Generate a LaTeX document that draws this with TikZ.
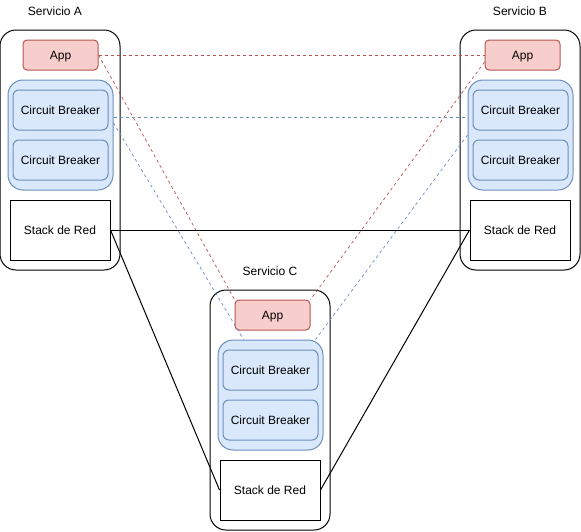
\documentclass[tikz,border=0pt]{standalone}
\usepackage{fontspec}
\setmainfont{Liberation Sans}
\begin{document}
\definecolor{redfill}{HTML}{F8CECC}
\definecolor{redline}{HTML}{B85450}
\definecolor{bluefill}{HTML}{DAE8FC}
\definecolor{blueline}{HTML}{6C8EBF}
\begin{tikzpicture}[x=1pt,y=-1pt,
  every node/.style={font=\fontsize{12}{14}\selectfont, inner sep=0pt, text height=8.6pt, text depth=0pt},
  service/.style={draw=black, line width=1pt, rounded corners=16pt, minimum width=120pt, minimum height=240pt},
  appbox/.style={draw=redline, fill=redfill, line width=1pt, rounded corners=4pt, minimum width=75pt, minimum height=30pt},
  group/.style={draw=blueline, fill=bluefill, line width=1pt, rounded corners=15pt, minimum width=105pt, minimum height=110pt},
  breaker/.style={draw=blueline, fill=bluefill, line width=1pt, rounded corners=6pt, minimum width=95pt, minimum height=40pt},
  stack/.style={draw=black, fill=white, line width=1pt, minimum width=100pt, minimum height=60pt},
  title/.style={},
  appline/.style={draw=redline, line width=0.7pt, dash pattern=on 3pt off 3pt},
  cbline/.style={draw=blueline, line width=0.7pt, dash pattern=on 3pt off 3pt},
  netline/.style={draw=black, line width=1pt}
]
\useasboundingbox (0,0) rectangle (581,531);

% Servicio A
\node[title] (tA) at (55,11) {Servicio A};
\node[service] (svcA) at (60,150) {};
\node[appbox] (appA) at (60.5,55) {App};
\node[group] (grpA) at (60.5,135) {};
\node[breaker] (cbA1) at (60.5,110) {Circuit Breaker};
\node[breaker] (cbA2) at (60.5,160) {Circuit Breaker};
\node[stack] (stA) at (60,230) {Stack de Red};

% Servicio B
\node[title] (tB) at (520,11) {Servicio B};
\node[service] (svcB) at (520,150) {};
\node[appbox] (appB) at (522.5,55) {App};
\node[group] (grpB) at (520.5,135) {};
\node[breaker] (cbB1) at (520.5,110) {Circuit Breaker};
\node[breaker] (cbB2) at (520.5,160) {Circuit Breaker};
\node[stack] (stB) at (520,230) {Stack de Red};

% Servicio C
\node[title] (tC) at (270,271) {Servicio C};
\node[service] (svcC) at (270,410) {};
\node[appbox] (appC) at (272.5,315) {App};
\node[group] (grpC) at (270.5,395) {};
\node[breaker] (cbC1) at (270.5,370) {Circuit Breaker};
\node[breaker] (cbC2) at (270.5,420) {Circuit Breaker};
\node[stack] (stC) at (270,490) {Stack de Red};

% application links
\draw[appline] (appA.east) -- (appB.west);
\draw[appline] (appA.east) -- (appC.north west);
\draw[appline] ([yshift=-7pt]appB.west) -- (appC.north east);

% circuit breaker links
\draw[cbline] ([yshift=18pt]grpA.east) -- ([yshift=18pt]grpB.west);
\draw[cbline] ([yshift=12pt]grpA.east) -- ([xshift=-27pt]grpC.north);
\draw[cbline] (grpB.west) -- ([xshift=45pt]grpC.north);

% network links
\draw[netline] (stA.east) -- (stB.west);
\draw[netline] (stA.east) -- (stC.west);
\draw[netline] (stB.west) -- (stC.east);
\end{tikzpicture}
\end{document}
